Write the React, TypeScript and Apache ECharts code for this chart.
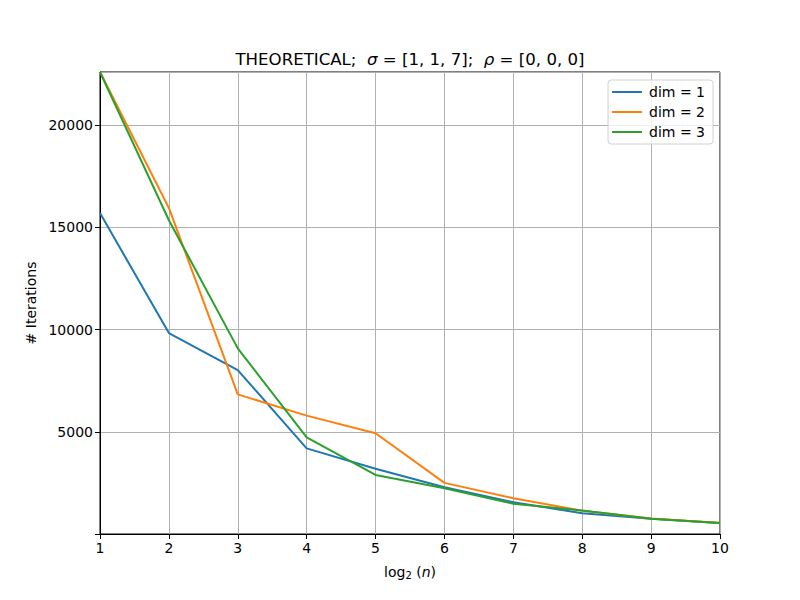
import React, { useEffect, useRef } from "react";
import * as echarts from "echarts";

const xValues = [1, 2, 3, 4, 5, 6, 7, 8, 9, 10];
const dim1 = [15700, 9830, 8020, 4190, 3190, 2290, 1550, 1020, 750, 535];
const dim2 = [22600, 15950, 6830, 5790, 4930, 2500, 1750, 1140, 760, 535];
const dim3 = [22600, 15350, 9080, 4730, 2890, 2240, 1480, 1150, 750, 535];
const seriesNames = ["dim = 1", "dim = 2", "dim = 3"];
const colors = ["#1f77b4", "#ff7f0e", "#2ca02c"];

const FONT = "DejaVu Sans";

export default function App() {
  const ref = useRef<HTMLDivElement>(null);
  useEffect(() => {
    if (!ref.current) return;
    const chart = echarts.init(ref.current, undefined, { renderer: "svg" });
    const allData = [dim1, dim2, dim3];
    chart.setOption({
      animation: false,
      backgroundColor: "#ffffff",
      textStyle: { fontFamily: FONT },
      title: {
        text: "{n|THEORETICAL;  }{i|σ}{n| = [1, 1, 7];  }{i|ρ}{n| = [0, 0, 0]}",
        left: 405,
        textAlign: "center",
        top: 46,
        textStyle: {
          fontWeight: "normal",
          rich: {
            n: { fontFamily: FONT, fontSize: 16.6, color: "#000", fontWeight: "normal" },
            i: { fontFamily: FONT, fontSize: 16.6, color: "#000", fontStyle: "italic", fontWeight: "normal" },
          },
        },
      },
      legend: {
        orient: "vertical",
        right: 87,
        top: 80,
        data: seriesNames,
        icon: "rect",
        itemWidth: 30,
        itemHeight: 2,
        itemGap: 6,
        padding: [5, 8, 5, 4],
        borderColor: "#d0d0d0",
        borderWidth: 1,
        borderRadius: 3,
        backgroundColor: "rgba(255,255,255,0.8)",
        textStyle: { fontFamily: FONT, fontSize: 14, color: "#000", padding: [0, 0, 0, 2] },
      },
      grid: {
        left: 100,
        right: 80,
        top: 72,
        bottom: 66,
        show: true,
        borderColor: "#000",
        borderWidth: 1,
        backgroundColor: "transparent",
      },
      xAxis: {
        type: "value",
        min: 1,
        max: 10,
        interval: 1,
        name: "{n|log}{s|2}{n| (}{i|n}{n|)}",
        nameLocation: "middle",
        nameGap: 30,
        nameTextStyle: {
          rich: {
            n: { fontFamily: FONT, fontSize: 14, color: "#000" },
            s: { fontFamily: FONT, fontSize: 10, color: "#000", padding: [6, 0, 0, 0] },
            i: { fontFamily: FONT, fontSize: 14, color: "#000", fontStyle: "italic" },
          },
        },
        axisLine: { show: true, lineStyle: { color: "#000", width: 1 } },
        axisTick: { show: true, length: 5, lineStyle: { color: "#000" } },
        axisLabel: { fontFamily: FONT, fontSize: 14, color: "#000", margin: 7 },
        splitLine: { show: true, lineStyle: { color: "#b0b0b0", width: 1 } },
      },
      yAxis: {
        type: "value",
        min: 0,
        max: 22600,
        interval: 5000,
        name: "# Iterations",
        nameLocation: "middle",
        nameGap: 62,
        nameRotate: 90,
        nameTextStyle: { fontFamily: FONT, fontSize: 14, color: "#000" },
        axisLine: { show: true, lineStyle: { color: "#000", width: 1 } },
        axisTick: { show: true, length: 5, lineStyle: { color: "#000" } },
        axisLabel: {
          fontFamily: FONT,
          fontSize: 14,
          color: "#000",
          margin: 7,
          showMaxLabel: false,
          formatter: (v: number) => (v === 0 || v % 5000 !== 0 ? "" : String(v)),
        },
        splitLine: { show: true, lineStyle: { color: "#b0b0b0", width: 1 } },
      },
      series: allData.map((d, k) => ({
        name: seriesNames[k],
        type: "line",
        data: xValues.map((x, i) => [x, d[i]]),
        showSymbol: false,
        symbol: "none",
        color: colors[k],
        lineStyle: { color: colors[k], width: 2 },
        clip: true,
      })),
    });
    return () => chart.dispose();
  }, []);
  return <div ref={ref} style={{ width: 800, height: 600, position: "absolute", left: 0, top: 0 }} />;
}
